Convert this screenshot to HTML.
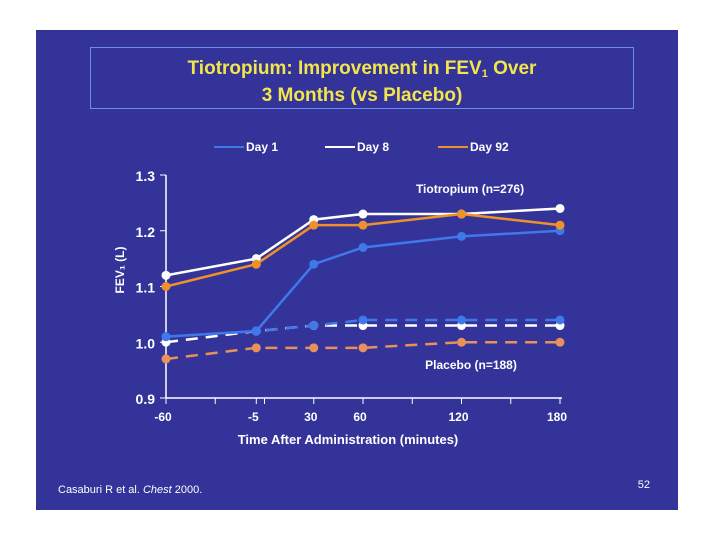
<!DOCTYPE html>
<html><head><meta charset="utf-8"><style>
body{margin:0;width:720px;height:540px;background:#fff;overflow:hidden;font-family:"Liberation Sans",sans-serif}
#panel{position:absolute;left:36px;top:30px;width:642px;height:480px;background:#333399}
#tbox{position:absolute;left:90px;top:47px;width:544px;height:62px;border:1px solid #6a8cf0;color:#f2e64a;font-weight:bold;font-size:19px;text-align:center;line-height:27px;padding-top:7px;box-sizing:border-box}
#tbox sub{font-size:11px;line-height:0;vertical-align:-3px}
svg{position:absolute;left:0;top:0}
</style></head><body>
<div id="panel"></div>
<div id="tbox">Tiotropium: Improvement in FEV<sub>1</sub> Over<br>3 Months (vs Placebo)</div>
<svg id="c" width="720" height="540"></svg>
<script>
const xVals=[-60,-5,30,60,120,180];
const xTicks=["-60","-5","30","60","120","180"];
const yTicks=[0.9,1.0,1.1,1.2,1.3];
const tioDay1=[1.01,1.02,1.14,1.17,1.19,1.20];
const tioDay8=[1.12,1.15,1.22,1.23,1.23,1.24];
const tioDay92=[1.10,1.14,1.21,1.21,1.23,1.21];
const plaDay1=[1.01,1.02,1.03,1.04,1.04,1.04];
const plaDay8=[1.00,1.02,1.03,1.03,1.03,1.03];
const plaDay92=[0.97,0.99,0.99,0.99,1.00,1.00];
const svg=document.getElementById('c');const NS='http://www.w3.org/2000/svg';
const X=v=>166+(v+60)*(394/240);
const Y=v=>398-(v-0.9)*(223/0.4);
function mk(t,a,p){const e=document.createElementNS(NS,t);for(const k in a)e.setAttribute(k,a[k]);(p||svg).appendChild(e);return e;}
function txt(x,y,s,a,fs,fill,anchor,w){const t=mk('text',Object.assign({x:x,y:y,'font-size':fs,fill:fill,'text-anchor':anchor||'start','font-weight':w||'bold','font-family':'Liberation Sans, sans-serif'},a||{}));t.textContent=s;return t;}
let e=mk('line',{x1:166,y1:175,x2:166,y2:398,stroke:'#fff','stroke-width':1.5});

e=mk('line',{x1:166,y1:398,x2:562,y2:398,stroke:'#fff','stroke-width':1.5});

for(let i=0;i<9;i++){const tx=166+i*49.25;mk('line',{x1:tx,y1:398,x2:tx,y2:404,stroke:'#fff'});}
mk('line',{x1:X(-5),y1:398,x2:X(-5),y2:404,stroke:'#fff'});
yTicks.forEach(v=>{mk('line',{x1:160,y1:Y(v),x2:166,y2:Y(v),stroke:'#fff'});
 e=txt(155,Y(v)+6,v.toFixed(1),null,14,'#fff','end');
 });
xVals.forEach((v,i)=>{e=txt(X(v)-3,421,xTicks[i],null,12,'#fff','middle');
 });
e=txt(348,444,'Time After Administration (minutes)',null,13,'#fff','middle');

e=txt(0,0,'FEV₁ (L)',{transform:'translate(124,270) rotate(-90)'},12,'#fff','middle');

function series(vals,col,dash,name){
 const g=mk('g',{});
 
 mk('polyline',{points:vals.map((v,i)=>X(xVals[i])+','+Y(v)).join(' '),fill:'none',stroke:col,'stroke-width':2.5,'stroke-dasharray':dash||'none'},g);
 vals.forEach((v,i)=>mk('circle',{cx:X(xVals[i]),cy:Y(v),r:4.5,fill:col},g));
}
series(plaDay92,'#e8915a','12,8','placebo-day92-line');
series(plaDay8,'#ffffff','12,8','placebo-day8-line');
series(plaDay1,'#3f78e8','12,8','placebo-day1-line');
series(tioDay1,'#3f78e8',null,'tiotropium-day1-line');
series(tioDay8,'#ffffff',null,'tiotropium-day8-line');
series(tioDay92,'#f0902a',null,'tiotropium-day92-line');
e=txt(470,193,'Tiotropium (n=276)',null,12,'#fff','middle');

e=txt(471,369,'Placebo (n=188)',null,12,'#fff','middle');

const leg=[['Day 1','#3f78e8',214],['Day 8','#ffffff',325],['Day 92','#f0902a',438]];
leg.forEach(l=>{const g=mk('g',{});
 
 mk('line',{x1:l[2],y1:147,x2:l[2]+30,y2:147,stroke:l[1],'stroke-width':2},g);
 const t=txt(l[2]+32,151,l[0],null,12,'#fff');g.appendChild(t);});
e=txt(58,493,'Casaburi R et al. ',null,11,'#fff','start','normal');

const it=mk('tspan',{'font-style':'italic'},e);it.textContent='Chest';
const t2=mk('tspan',{},e);t2.textContent=' 2000.';
e=txt(650,488,'52',null,11,'#fff','end','normal');

</script>
</body></html>
